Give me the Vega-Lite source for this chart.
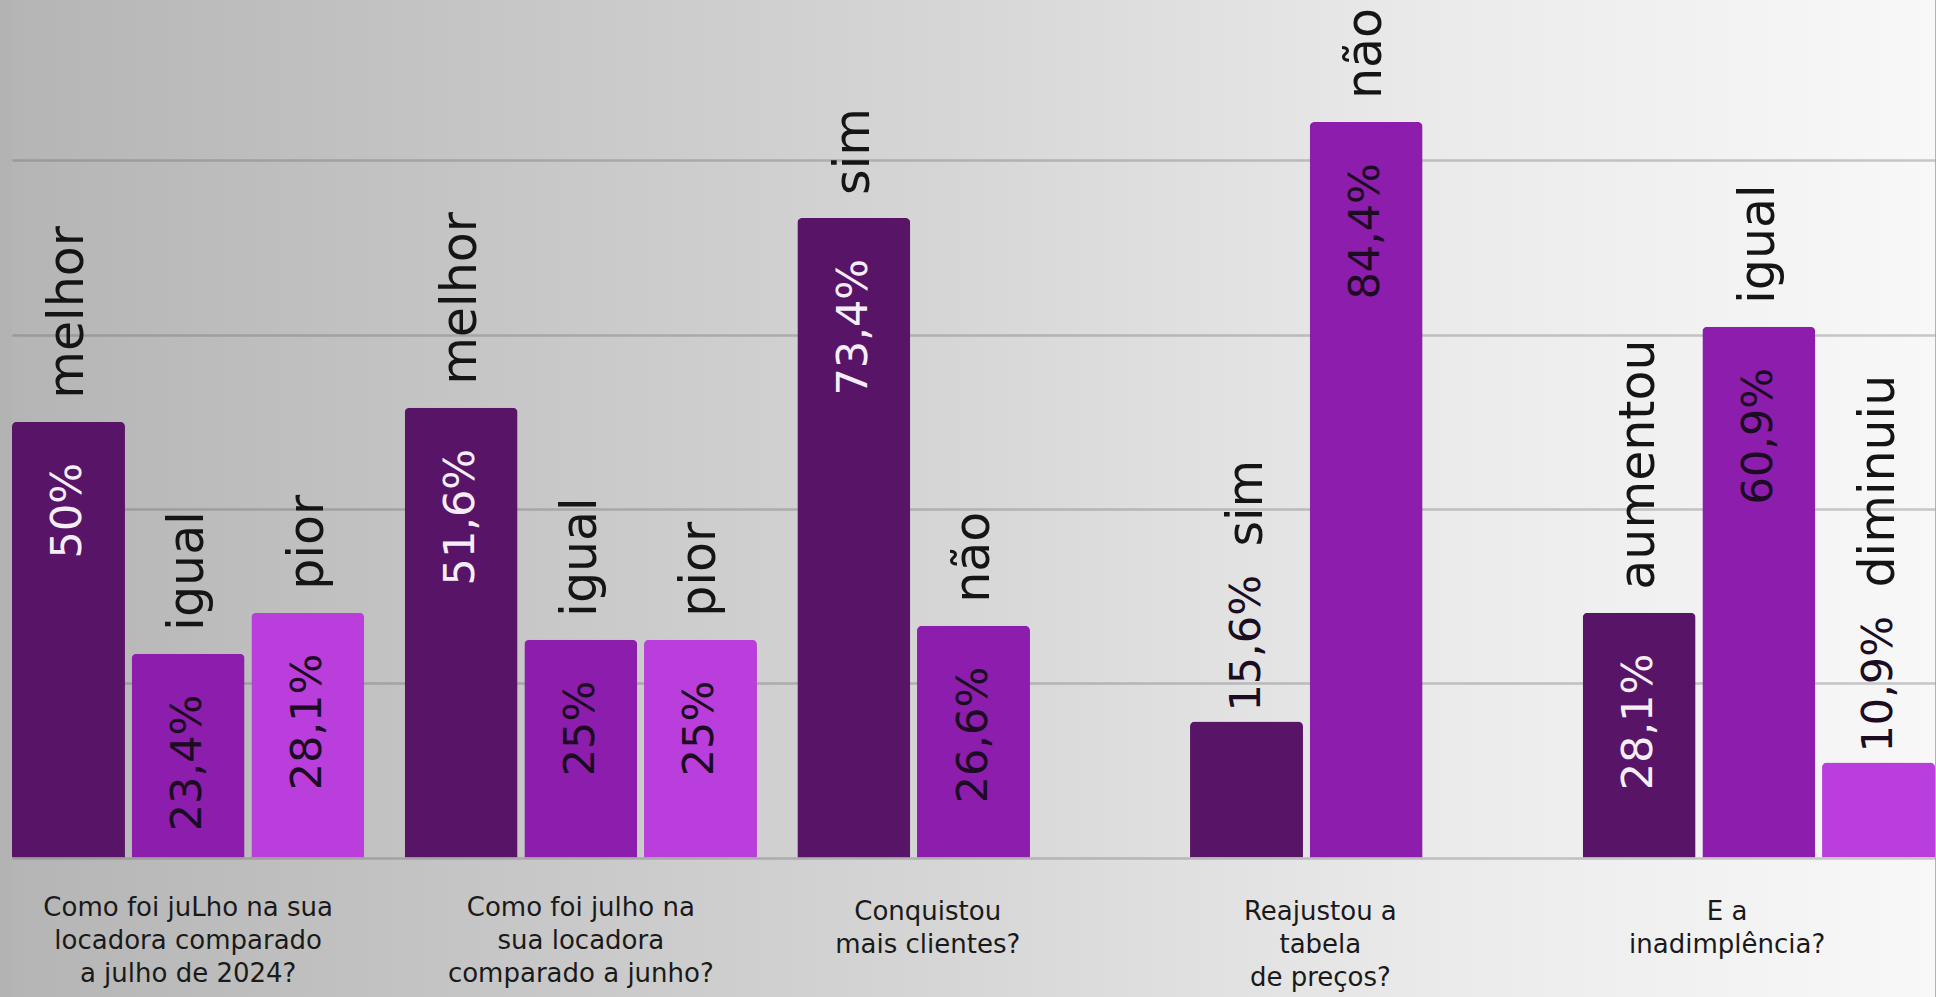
{
  "$schema": "https://vega.github.io/schema/vega-lite/v6.json",
  "autosize": {"type": "fit", "contains": "padding"},
  "width": 1936,
  "height": 997,
  "padding": {"left": 12, "top": 0, "right": 0, "bottom": 0},
  "background": "#b3b3b3",
  "view": {
    "stroke": null,
    "fill": {
      "gradient": "linear", "x1": 0, "y1": 0, "x2": 1, "y2": 0,
      "stops": [
        {"offset": 0, "color": "#b5b5b5"},
        {"offset": 0.25, "color": "#c6c6c6"},
        {"offset": 0.5, "color": "#d7d7d7"},
        {"offset": 0.75, "color": "#ebebeb"},
        {"offset": 1, "color": "#f8f8f8"}
      ]
    }
  },
  "config": {"font": "DejaVu Sans"},
  "datasets": {
    "bars": [
      {"q": "q1", "cat": "melhor", "slot": 0, "value": 50, "txt": "50%"},
      {"q": "q1", "cat": "igual", "slot": 1, "value": 23.4, "txt": "23,4%"},
      {"q": "q1", "cat": "pior", "slot": 2, "value": 28.1, "txt": "28,1%"},
      {"q": "q2", "cat": "melhor", "slot": 0, "value": 51.6, "txt": "51,6%"},
      {"q": "q2", "cat": "igual", "slot": 1, "value": 25, "txt": "25%"},
      {"q": "q2", "cat": "pior", "slot": 2, "value": 25, "txt": "25%"},
      {"q": "q3", "cat": "sim", "slot": 0, "value": 73.4, "txt": "73,4%"},
      {"q": "q3", "cat": "não", "slot": 1, "value": 26.6, "txt": "26,6%"},
      {"q": "q4", "cat": "sim", "slot": 0, "value": 15.6, "txt": "15,6%"},
      {"q": "q4", "cat": "não", "slot": 1, "value": 84.4, "txt": "84,4%"},
      {"q": "q5", "cat": "aumentou", "slot": 0, "value": 28.1, "txt": "28,1%"},
      {"q": "q5", "cat": "igual", "slot": 1, "value": 60.9, "txt": "60,9%"},
      {"q": "q5", "cat": "diminuiu", "slot": 2, "value": 10.9, "txt": "10,9%"}
    ],
    "questions": [
      {"q": "q1", "n": 3, "label": "Como foi juLho na sua|locadora comparado|a julho de 2024?"},
      {"q": "q2", "n": 3, "label": "Como foi julho na|sua locadora|comparado a junho?"},
      {"q": "q3", "n": 2, "label": "Conquistou|mais clientes?"},
      {"q": "q4", "n": 2, "label": "Reajustou a|tabela|de preços?"},
      {"q": "q5", "n": 3, "label": "E a|inadimplência?"}
    ]
  },
  "layer": [
    {
      "data": {"name": "bars"},
      "mark": {"type": "bar", "cornerRadiusTopLeft": 5, "cornerRadiusTopRight": 5},
      "encoding": {
        "x": {"field": "q", "type": "nominal", "scale": {"domain": ["q1", "q2", "q3", "q4", "q5"], "paddingInner": 0.1028, "paddingOuter": 0}, "axis": null},
        "xOffset": {"field": "slot", "type": "nominal", "scale": {"domain": [0, 1, 2], "paddingInner": 0.056, "paddingOuter": 0}},
        "y": {
          "field": "value", "type": "quantitative",
          "scale": {"domain": [-16, 98.4], "nice": false, "zero": false},
          "axis": {"values": [0, 20, 40, 60, 80], "grid": true, "labels": false, "ticks": false, "domain": false, "title": null, "gridColor": "#646464", "gridOpacity": 0.33, "gridWidth": 2.5}
        },
        "color": {"field": "slot", "type": "nominal", "scale": {"domain": [0, 1, 2], "range": ["#581467", "#8d1dac", "#b93edc"]}, "legend": null}
      }
    },
    {
      "data": {"name": "bars"},
      "transform": [{"filter": "datum.value >= 20"}],
      "mark": {"type": "text", "angle": 270, "align": "right", "baseline": "middle", "dx": -41, "fontSize": 43},
      "encoding": {
        "x": {"field": "q", "type": "nominal"},
        "xOffset": {"field": "slot", "type": "nominal"},
        "y": {"field": "value", "type": "quantitative"},
        "text": {"field": "txt"},
        "color": {"condition": {"test": "datum.slot == 0", "value": "#f5eef7"}, "value": "#1c0c22"}
      }
    },
    {
      "data": {"name": "bars"},
      "transform": [{"filter": "datum.value >= 20"}],
      "mark": {"type": "text", "angle": 270, "align": "left", "baseline": "middle", "dx": 23, "fontSize": 49, "color": "#151515"},
      "encoding": {
        "x": {"field": "q", "type": "nominal"},
        "xOffset": {"field": "slot", "type": "nominal"},
        "y": {"field": "value", "type": "quantitative"},
        "text": {"field": "cat"}
      }
    },
    {
      "data": {"name": "bars"},
      "transform": [{"filter": "datum.value < 20"}],
      "mark": {"type": "text", "angle": 270, "align": "left", "baseline": "middle", "dx": 10, "fontSize": 43, "color": "#1c0c22"},
      "encoding": {
        "x": {"field": "q", "type": "nominal"},
        "xOffset": {"field": "slot", "type": "nominal"},
        "y": {"field": "value", "type": "quantitative"},
        "text": {"field": "txt"}
      }
    },
    {
      "data": {"name": "bars"},
      "transform": [{"filter": "datum.value < 20"}],
      "mark": {"type": "text", "angle": 270, "align": "left", "baseline": "middle", "dx": 175, "fontSize": 49, "color": "#151515"},
      "encoding": {
        "x": {"field": "q", "type": "nominal"},
        "xOffset": {"field": "slot", "type": "nominal"},
        "y": {"field": "value", "type": "quantitative"},
        "text": {"field": "cat"}
      }
    },
    {
      "data": {"name": "questions"},
      "transform": [{"filter": "datum.n == 3 && datum.q != 'q5'"}],
      "mark": {"type": "text", "align": "center", "baseline": "top", "fontSize": 26, "lineHeight": 33, "lineBreak": "|", "color": "#1a1a1a"},
      "encoding": {
        "x": {"field": "q", "type": "nominal", "bandPosition": 0.5},
        "y": {"datum": -4.3, "type": "quantitative"},
        "text": {"field": "label"}
      }
    },
    {
      "data": {"name": "questions"},
      "transform": [{"filter": "datum.q == 'q5'"}],
      "mark": {"type": "text", "align": "center", "baseline": "top", "fontSize": 26, "lineHeight": 33, "lineBreak": "|", "color": "#1a1a1a"},
      "encoding": {
        "x": {"field": "q", "type": "nominal", "bandPosition": 0.41},
        "y": {"datum": -4.7, "type": "quantitative"},
        "text": {"field": "label"}
      }
    },
    {
      "data": {"name": "questions"},
      "transform": [{"filter": "datum.n == 2"}],
      "mark": {"type": "text", "align": "center", "baseline": "top", "fontSize": 26, "lineHeight": 33, "lineBreak": "|", "color": "#1a1a1a"},
      "encoding": {
        "x": {"field": "q", "type": "nominal", "bandPosition": 0.37},
        "y": {"datum": -4.7, "type": "quantitative"},
        "text": {"field": "label"}
      }
    }
  ]
}
